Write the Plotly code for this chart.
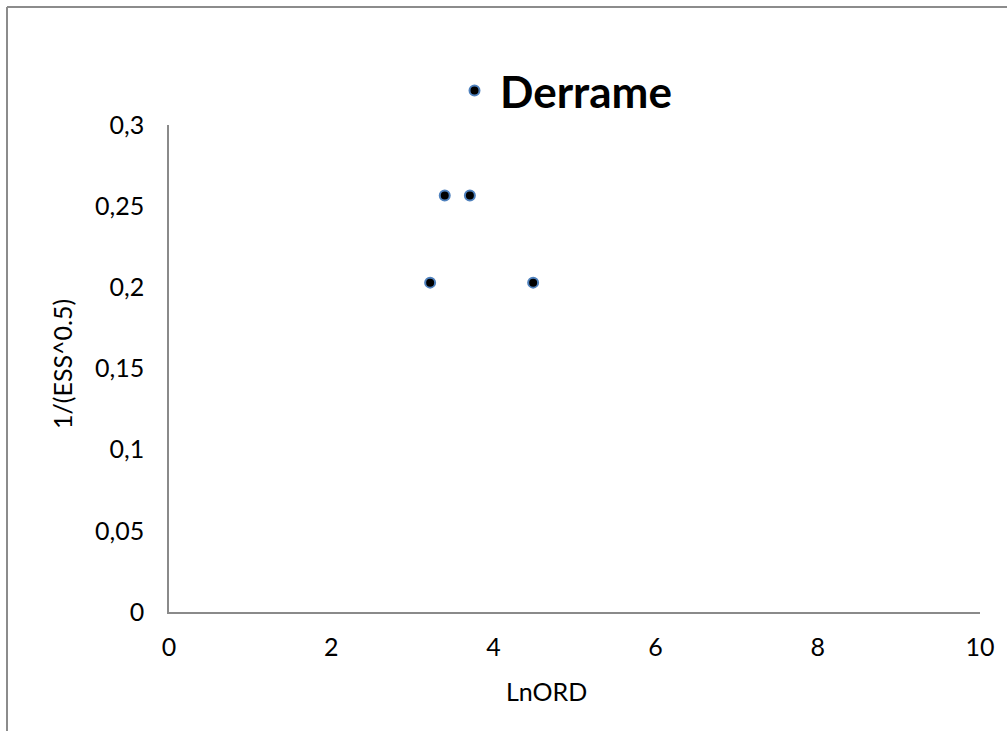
import plotly.graph_objects as go

# Data
series_name = "Derrame"
ln_ord = [3.22, 3.40, 3.71, 4.49]
inv_sqrt_ess = [0.2029, 0.2565, 0.2565, 0.2029]

x_tickvals = [0, 2, 4, 6, 8, 10]
x_ticktext = ["0", "2", "4", "6", "8", "10"]
y_tickvals = [0, 0.05, 0.1, 0.15, 0.2, 0.25, 0.3]
y_ticktext = ["0", "0,05", "0,1", "0,15", "0,2", "0,25", "0,3"]

x_title = "LnORD"
y_title = "1/(ESS^0.5)"

W, H = 1007, 731
L, R, T, B = 169, 27, 125, 119
pw, ph = W - L - R, H - T - B

def px_x(p):
    return (p - L) / pw

def px_y(p):
    return (H - B - p) / ph

FONT = "Lato, 'Open Sans', sans-serif"
AXIS_COLOR = "#8a8a8a"
TICK_SIZE = 25
TITLE_SIZE = 25

fig = go.Figure()
fig.add_trace(go.Scatter(
    x=ln_ord, y=inv_sqrt_ess, mode="markers", name=series_name,
    marker=dict(color="black", size=10, line=dict(color="#4F81BD", width=2)),
    showlegend=True,
))

fig.update_layout(
    width=W, height=H,
    margin=dict(l=L, r=R, t=T, b=B, autoexpand=False),
    paper_bgcolor="white", plot_bgcolor="white",
    font=dict(family=FONT, size=TICK_SIZE, color="black"),
    showlegend=True,
    legend=dict(
        x=px_x(449), y=px_y(91), xanchor="left", yanchor="middle",
        font=dict(family=FONT, size=44, color="black", weight="bold"),
        bgcolor="rgba(0,0,0,0)", itemwidth=41,
    ),
    xaxis=dict(
        range=[0, 10], tickvals=x_tickvals, ticktext=x_ticktext,
        showgrid=False, zeroline=False, showline=True, linecolor=AXIS_COLOR,
        linewidth=1.5, ticks="", ticklabelstandoff=12,
        tickfont=dict(family=FONT, size=TICK_SIZE, color="black"),
    ),
    yaxis=dict(
        range=[0, 0.3], tickvals=y_tickvals, ticktext=y_ticktext,
        showgrid=False, zeroline=False, showline=True, linecolor=AXIS_COLOR,
        linewidth=1.5, ticks="", ticklabelstandoff=18,
        tickfont=dict(family=FONT, size=TICK_SIZE, color="black"),
    ),
    annotations=[
        dict(text=x_title, xref="paper", yref="paper", x=px_x(546), y=px_y(691),
             xanchor="center", yanchor="middle", showarrow=False,
             font=dict(family=FONT, size=TITLE_SIZE, color="black")),
        dict(text=y_title, xref="paper", yref="paper", x=px_x(62), y=px_y(364),
             xanchor="center", yanchor="middle", showarrow=False, textangle=-90,
             font=dict(family=FONT, size=TITLE_SIZE, color="black")),
    ],
    shapes=[
        dict(type="line", xref="paper", yref="paper",
             x0=px_x(7), x1=px_x(1010), y0=px_y(7), y1=px_y(7),
             line=dict(color="#8c8c8c", width=2)),
        dict(type="line", xref="paper", yref="paper",
             x0=px_x(7), x1=px_x(7), y0=px_y(7), y1=px_y(735),
             line=dict(color="#8c8c8c", width=2)),
    ],
)

fig.write_html("out.html")
